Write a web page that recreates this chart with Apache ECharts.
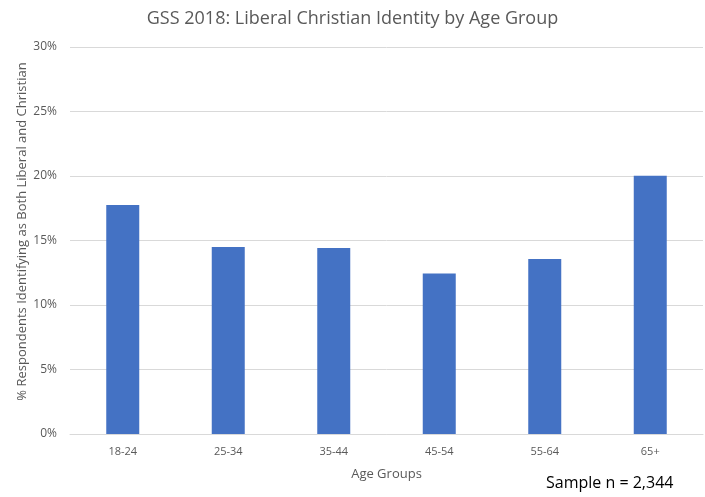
<!DOCTYPE html>
<html><head><meta charset="utf-8">
<script src="https://cdn.jsdelivr.net/npm/echarts@6/dist/echarts.min.js"></script>
<style>html,body{margin:0;padding:0;background:#fff}#c{width:705px;height:497px}</style>
</head><body><div id="c"></div>
<script>
const categories = ['18-24','25-34','35-44','45-54','55-64','65+'];
const values = [17.75, 14.50, 14.42, 12.45, 13.57, 20.02];
const yTicks = [0, 5, 10, 15, 20, 25, 30];
const titleText = 'GSS 2018: Liberal Christian Identity by Age Group';
const xName = 'Age Groups';
const yName = '% Respondents Identifying as Both Liberal and Christian';
const noteText = 'Sample n = 2,344';

const font = '"Open Sans", "Noto Sans", sans-serif';
const chart = echarts.init(document.getElementById('c'), null, {renderer:'canvas'});
chart.setOption({
  animation:false,
  title:{text:titleText,left:'center',top:5,textStyle:{fontFamily:font,fontSize:18,fontWeight:'normal',color:'#595959'}},
  grid:{left:70,right:2,top:47,bottom:63,containLabel:false},
  xAxis:{type:'category',data:categories,
    axisLine:{lineStyle:{color:'#d9d9d9'}},axisTick:{show:false},
    axisLabel:{color:'#595959',fontFamily:font,fontSize:11,margin:12},
    name:xName,nameLocation:'middle',nameGap:34,nameMoveOverlap:false,
    nameTextStyle:{color:'#595959',fontFamily:font,fontSize:13}},
  yAxis:{type:'value',min:yTicks[0],max:yTicks[yTicks.length-1],interval:5,
    axisLine:{show:false},axisTick:{show:false},
    splitLine:{lineStyle:{color:'#d9d9d9'}},
    axisLabel:{color:'#595959',fontFamily:font,fontSize:12,margin:13,formatter:v=>v+'%'},
    name:yName,nameLocation:'middle',nameGap:41,nameMoveOverlap:false,
    nameTextStyle:{color:'#595959',fontFamily:font,fontSize:13,padding:[0,0,0,18]}},
  series:[{type:'bar',data:values,barWidth:33,itemStyle:{color:'#4472C4'}}],
  graphic:[{type:'text',left:546,top:475,style:{text:noteText,fill:'#000',font:'16px '+font}}]
});
</script></body></html>
